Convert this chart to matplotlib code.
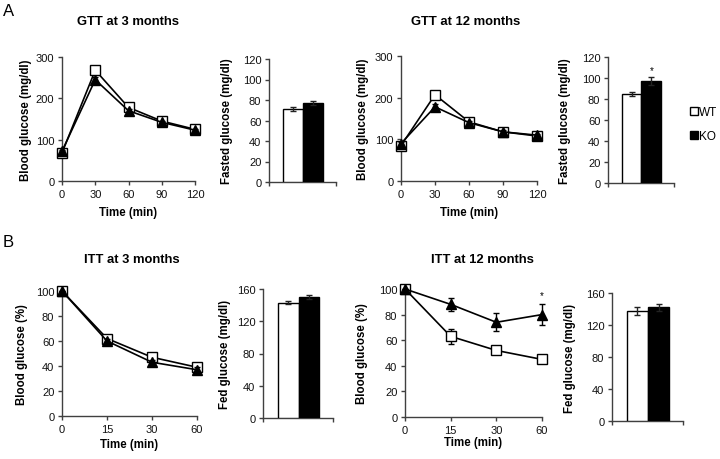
import numpy as np
import matplotlib
matplotlib.use("Agg")
import matplotlib.pyplot as plt
from matplotlib.patches import Patch

plt.rcParams['font.family'] = ['Liberation Sans', 'DejaVu Sans']

# ---- data ----
gtt_time = ["0", "30", "60", "90", "120"]
gtt3_wt = [68, 268, 178, 145, 125]
gtt3_wt_err = [3, 6, 5, 4, 4]
gtt3_ko = [72, 245, 170, 142, 123]
gtt3_ko_err = [3, 6, 5, 4, 4]

gtt12_wt = [85, 207, 142, 118, 108]
gtt12_wt_err = [4, 8, 5, 4, 4]
gtt12_ko = [90, 178, 140, 118, 110]
gtt12_ko_err = [4, 8, 5, 4, 4]

fasted3 = [71, 77]
fasted3_err = [2, 2]
fasted12 = [85, 97]
fasted12_err = [2, 4]

itt_time = ["0", "15", "30", "60"]
itt3_wt = [100, 62, 47, 39]
itt3_wt_err = [0, 2, 2, 2]
itt3_ko = [100, 60, 43, 37]
itt3_ko_err = [0, 2, 2, 2]

itt12_wt = [100, 63, 52, 45]
itt12_wt_err = [0, 6, 2, 2]
itt12_ko = [100, 88, 74, 80]
itt12_ko_err = [0, 5, 7, 8]

fed3 = [143, 150]
fed3_err = [2, 2]
fed12 = [137, 142]
fed12_err = [5, 4]

groups = ["WT", "KO"]

W, H = 720, 460
fig = plt.figure(figsize=(7.2, 4.6), dpi=100)

AX_COL = "#404040"
TICK_FS = 8
LAB_FS = 8.3
TITLE_FS = 9.4


def add_ax(left, right, top, bottom, ylab_x):
    ax = fig.add_axes([left / W, 1 - bottom / H, (right - left) / W, (bottom - top) / H])
    for s in ["top", "right"]:
        ax.spines[s].set_visible(False)
    for s in ["left", "bottom"]:
        ax.spines[s].set_color(AX_COL)
        ax.spines[s].set_linewidth(1.0)
    ax.tick_params(direction="out", length=3, width=1, color=AX_COL, labelsize=TICK_FS,
                   labelcolor="#111111", pad=2.5)
    # y label placed by its pixel centre
    ax.yaxis.set_label_coords((ylab_x + 6 - left) / (right - left), 0.5)
    return ax


def line_panel(ax, labels, wt, wt_err, ko, ko_err, ymax, ystep, ylabel, xlab_dy):
    x = np.arange(len(labels))
    ax.errorbar(x, wt, yerr=wt_err, color="black", lw=1.2, marker="s", ms=7.5,
                mfc="white", mec="black", mew=1.0, capsize=2.5, elinewidth=1, zorder=3)
    ax.errorbar(x, ko, yerr=ko_err, color="black", lw=1.2, marker="^", ms=7.5,
                mfc="black", mec="black", capsize=2.5, elinewidth=1, zorder=4)
    ax.set_xlim(0, len(labels) - 1)
    ax.set_xticks(x)
    ax.set_xticklabels(labels)
    ax.set_ylim(0, ymax)
    ax.set_yticks(np.arange(0, ymax + 1, ystep))
    ax.set_ylabel(ylabel, fontsize=LAB_FS, fontweight="bold")
    ax.set_xlabel("Time (min)", fontsize=LAB_FS, fontweight="bold")
    h = ax.get_position().height * H
    ax.xaxis.set_label_coords(0.5, -(xlab_dy - 6) / h)
    for c in ax.get_children():
        c.set_clip_on(False)


def bar_panel(ax, vals, errs, ymax, ystep, ylabel):
    x = np.arange(len(vals))
    ax.bar(x, vals, width=1.0, color=["white", "black"], edgecolor="black", lw=1.0,
           yerr=errs, capsize=2.5, error_kw=dict(elinewidth=1, ecolor="#222222", capthick=1),
           zorder=3)
    ax.set_xlim(-1.2, 2.15)
    ax.set_xticks([-1.2, 2.15])
    ax.set_xticklabels([])
    ax.set_ylim(0, ymax)
    ax.set_yticks(np.arange(0, ymax + 1, ystep))
    ax.set_ylabel(ylabel, fontsize=LAB_FS, fontweight="bold")


def title(x, y, s):
    fig.text(x / W, 1 - y / H, s, fontsize=TITLE_FS, fontweight="bold",
             ha="center", va="center")


# A: GTT
ax = add_ax(62, 195, 58, 182, 26)
line_panel(ax, gtt_time, gtt3_wt, gtt3_wt_err, gtt3_ko, gtt3_ko_err, 300, 100,
           "Blood glucose (mg/dl)", 31)
title(128, 22, "GTT at 3 months")

ax = add_ax(269, 336, 60, 183, 227)
bar_panel(ax, fasted3, fasted3_err, 120, 20, "Fasted glucose (mg/dl)")

ax = add_ax(401, 537, 57, 182, 363)
line_panel(ax, gtt_time, gtt12_wt, gtt12_wt_err, gtt12_ko, gtt12_ko_err, 300, 100,
           "Blood glucose (mg/dl)", 31)
title(466, 22, "GTT at 12 months")

ax = add_ax(608, 674, 58, 184, 565)
bar_panel(ax, fasted12, fasted12_err, 120, 20, "Fasted glucose (mg/dl)")
ax.text(1, fasted12[1] + fasted12_err[1] + 2, "*", ha="center", va="bottom", fontsize=7)

# B: ITT
ax = add_ax(62, 197, 292, 417, 22)
line_panel(ax, itt_time, itt3_wt, itt3_wt_err, itt3_ko, itt3_ko_err, 100, 20,
           "Blood glucose (%)", 28)
title(132, 260, "ITT at 3 months")

ax = add_ax(263, 333, 290, 419, 225)
bar_panel(ax, fed3, fed3_err, 160, 40, "Fed glucose (mg/dl)")

ax = add_ax(405, 542, 290, 418, 362)
line_panel(ax, itt_time, itt12_wt, itt12_wt_err, itt12_ko, itt12_ko_err, 100, 20,
           "Blood glucose (%)", 25)
title(482, 260, "ITT at 12 months")
ax.text(3, itt12_ko[3] + itt12_ko_err[3] + 3, "*", ha="center", va="bottom", fontsize=7)

ax = add_ax(612, 683, 294, 422, 570)
bar_panel(ax, fed12, fed12_err, 160, 40, "Fed glucose (mg/dl)")

# legend
handles = [Patch(facecolor="white", edgecolor="black", label=groups[0]),
           Patch(facecolor="black", edgecolor="black", label=groups[1])]
fig.legend(handles=handles, loc="center left", bbox_to_anchor=(690 / W, 1 - 125 / H),
           frameon=False, fontsize=8.5, handlelength=0.65, handleheight=0.65,
           handletextpad=0.15, labelspacing=1.0, borderpad=0, borderaxespad=0)

fig.text(3 / W, 1 - 11 / H, "A", fontsize=12, va="center")
fig.text(3 / W, 1 - 243 / H, "B", fontsize=12, va="center")

fig.savefig("out.png", dpi=100)
